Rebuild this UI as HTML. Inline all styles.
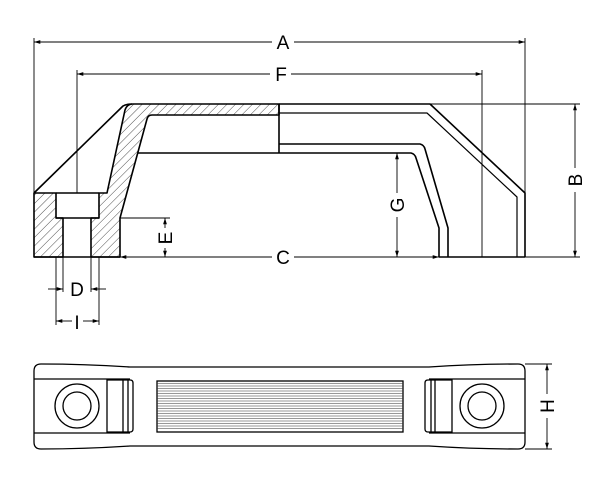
<!DOCTYPE html>
<html><head><style>html,body{margin:0;padding:0;background:#fff}svg{display:block}</style></head><body>
<svg width="600" height="500" viewBox="0 0 600 500" xmlns="http://www.w3.org/2000/svg" font-family="Liberation Sans, sans-serif">
<defs>
<pattern id="h" width="6" height="6" patternUnits="userSpaceOnUse" patternTransform="rotate(45)">
<line x1="0" y1="0" x2="0" y2="6" stroke="#222" stroke-width="0.8"/>
</pattern>
<marker id="ar" viewBox="0 0 10 10" refX="10" refY="5" markerWidth="7" markerHeight="7" orient="auto-start-reverse"><path d="M0,2 L10,5 L0,8 z" fill="#000"/></marker>
</defs>
<g fill="none" stroke="#000" stroke-width="1.6" stroke-linejoin="round">
<path d="M34,193 L56,193 L56,218 L63,218 L63,257 L34,257 Z" fill="url(#h)"/>
<path d="M99,193 L107,193 L125,110 Q127,104 133,104 L279,104 L279,115 L152,115 Q148,115 147,119 L120,218 L120,257 L91,257 L91,218 L99,218 Z" fill="url(#h)"/>
<path d="M56,193 L99,193 M56,218 L99,218"/>
<path d="M34,193 L123,106 Q126,104 132,104"/>
<path d="M279,104 L430,104 L525,193 L525,257"/>
<path d="M279,113 L427,113 L517,197 L517,257" stroke-width="1.2"/>
<path d="M279,104 L279,153"/>
<path d="M279,144 L420,144 Q424,145 425,149 L448,228 L448,257"/>
<path d="M138,153 L411,153 Q415,154 416,158 L439,228 L439,257"/>
<path d="M34,257 L120,257 M439,257 L525,257"/>
</g>
<g fill="none" stroke="#000" stroke-width="0.9">
<line x1="34" y1="38" x2="34" y2="193"/><line x1="525" y1="38" x2="525" y2="193"/>
<line x1="34" y1="42" x2="272" y2="42" marker-start="url(#ar)"/><line x1="294" y1="42" x2="525" y2="42" marker-end="url(#ar)"/>
<line x1="77" y1="70" x2="77" y2="193"/><line x1="482" y1="70" x2="482" y2="257"/>
<line x1="77" y1="74" x2="270" y2="74" marker-start="url(#ar)"/><line x1="291" y1="74" x2="482" y2="74" marker-end="url(#ar)"/>
<line x1="120" y1="257" x2="272" y2="257" marker-start="url(#ar)"/><line x1="294" y1="257" x2="439" y2="257" marker-end="url(#ar)"/>
<line x1="430" y1="104" x2="580" y2="104"/><line x1="525" y1="257" x2="580" y2="257"/>
<line x1="575" y1="104" x2="575" y2="168" marker-start="url(#ar)"/><line x1="575" y1="192" x2="575" y2="257" marker-end="url(#ar)"/>
<line x1="397" y1="153" x2="397" y2="193" marker-start="url(#ar)"/><line x1="397" y1="217" x2="397" y2="257" marker-end="url(#ar)"/>
<line x1="120" y1="218" x2="170" y2="218"/>
<line x1="165" y1="218" x2="165" y2="228" marker-start="url(#ar)"/><line x1="165" y1="248" x2="165" y2="257" marker-end="url(#ar)"/>
<line x1="63" y1="257" x2="63" y2="292"/><line x1="91" y1="257" x2="91" y2="292"/>
<line x1="48" y1="289" x2="63" y2="289" marker-end="url(#ar)"/><line x1="106" y1="289" x2="91" y2="289" marker-end="url(#ar)"/>
<line x1="56" y1="257" x2="56" y2="325"/><line x1="99" y1="257" x2="99" y2="325"/>
<line x1="56" y1="321" x2="72" y2="321" marker-start="url(#ar)"/><line x1="83" y1="321" x2="99" y2="321" marker-end="url(#ar)"/>
<line x1="525" y1="364" x2="552" y2="364"/><line x1="525" y1="449" x2="552" y2="449"/>
<line x1="547" y1="364" x2="547" y2="394" marker-start="url(#ar)"/><line x1="547" y1="418" x2="547" y2="449" marker-end="url(#ar)"/>
</g>
<g font-size="19" text-anchor="middle" fill="#000">
<text x="283" y="49">A</text>
<text x="281" y="81">F</text>
<text x="283" y="264">C</text>
<text x="77" y="296">D</text>
<text x="77" y="329">I</text>
<text transform="translate(582,180) rotate(-90)">B</text>
<text transform="translate(404,205) rotate(-90)">G</text>
<text transform="translate(172,238) rotate(-90)">E</text>
<text transform="translate(554,406) rotate(-90)">H</text>
</g>
<g fill="none" stroke="#000" stroke-width="1.3">
<path d="M41,364 Q85,364 130,367 L429,367 Q474,364 518,364 Q525,364 525,371 L525,442 Q525,449 518,449 Q474,449 429,446 L130,446 Q85,449 41,449 Q34,449 34,442 L34,371 Q34,364 41,364 Z"/>
<path d="M34,379 L130,379 M34,433 L130,433 M429,379 L525,379 M429,433 L525,433"/>
<path d="M107,380 L130,380 Q133,380 133,383 L133,429 Q133,432 130,432 L107,432 Z M123,380 L123,432 M128,380 L128,432"/>
<path d="M452,380 L428,380 Q425,380 425,383 L425,429 Q425,432 428,432 L452,432 Z M435,380 L435,432 M431,380 L431,432"/>
<circle cx="77" cy="406" r="22"/><circle cx="77" cy="406" r="14"/>
<circle cx="482" cy="406" r="22"/><circle cx="482" cy="406" r="14"/>
<rect x="157" y="381" width="246" height="51"/>
</g>
<g stroke="#333" stroke-width="0.6">
<path d="M157,383.5H403M157,386H403M157,388.5H403M157,391H403M157,393.5H403M157,396H403M157,398.5H403M157,401H403M157,403.5H403M157,406H403M157,408.5H403M157,411H403M157,413.5H403M157,416H403M157,418.5H403M157,421H403M157,423.5H403M157,426H403M157,428.5H403"/>
</g>
</svg>
</body></html>
